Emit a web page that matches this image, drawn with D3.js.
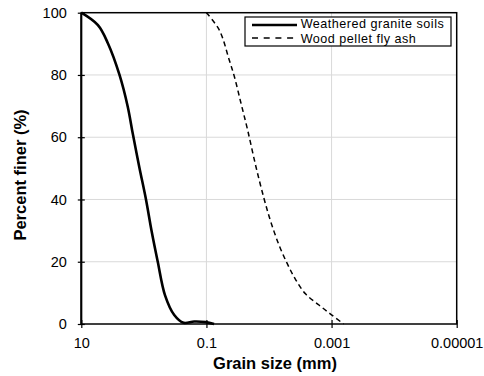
<!DOCTYPE html>
<html>
<head>
<meta charset="utf-8">
<script src="https://cdn.jsdelivr.net/npm/d3@7/dist/d3.min.js"></script>
<style>
  html, body { margin: 0; padding: 0; background: #fff; }
  svg { display: block; font-family: Arial, "Liberation Sans", sans-serif; }
</style>
</head>
<body>
<svg id="chart" width="484" height="376"></svg>
<script>
// Grain size distribution data (grain size in mm, percent finer in %)
const graniteSize = [10, 5.42, 3.76, 2.45, 1.81, 1.50, 1.18, 0.925, 0.75, 0.60, 0.46, 0.327, 0.232, 0.157, 0.1025, 0.0755];
const granitePct  = [100, 96, 90.2, 80, 69.8, 61, 50.3, 40, 29.7, 20, 9.3, 2.9, 0.4, 0.8, 0.6, 0];

const ashSize = [0.1, 0.0622, 0.0432, 0.0358, 0.0281, 0.0220, 0.0162, 0.0119, 0.00935, 0.0069, 0.00508, 0.00374, 0.00259, 0.00159, 0.00104, 0.00064];
const ashPct  = [100, 94.4, 84.8, 79.5, 71, 62.4, 50.6, 40, 32.8, 25.3, 19.3, 14.2, 9.6, 6.1, 3.2, 0];

const xTicks = [10, 0.1, 0.001, 0.00001];
const xTickLabels = ["10", "0.1", "0.001", "0.00001"];
const yTicks = [0, 20, 40, 60, 80, 100];

const seriesNames = ["Weathered granite soils", "Wood pellet fly ash"];

const svg = d3.select("#chart");
const L = 81.3, R = 456.7, T = 12.7, B = 324;

const x = d3.scaleLog().domain([10, 0.00001]).range([L, R]);
const y = d3.scaleLinear().domain([0, 100]).range([B, T]);

// gridlines
svg.append("g").selectAll("line").data(yTicks.filter(v => v > 0 && v < 100)).join("line")
  .attr("x1", L).attr("x2", R).attr("y1", d => y(d)).attr("y2", d => y(d))
  .attr("stroke", "#d9d9d9").attr("stroke-width", 1);
svg.append("g").selectAll("line").data(xTicks.slice(1, -1)).join("line")
  .attr("x1", d => x(d)).attr("x2", d => x(d)).attr("y1", T).attr("y2", B)
  .attr("stroke", "#d9d9d9").attr("stroke-width", 1);

// series lines
const line = d3.line().x(d => x(d[0])).y(d => y(d[1])).curve(d3.curveCatmullRom.alpha(0.5));
const granite = graniteSize.map((s, i) => [s, granitePct[i]]);
const ash = ashSize.map((s, i) => [s, ashPct[i]]);

svg.append("path").datum(granite).attr("d", line)
  .attr("fill", "none").attr("stroke", "#000").attr("stroke-width", 2.6)
  .attr("stroke-linejoin", "round");
svg.append("path").datum(ash).attr("d", line)
  .attr("fill", "none").attr("stroke", "#000").attr("stroke-width", 1.5)
  .attr("stroke-dasharray", "5,3.5");

// plot frame
svg.append("rect").attr("x", L).attr("y", T).attr("width", R - L).attr("height", B - T)
  .attr("fill", "none").attr("stroke", "#000").attr("stroke-width", 1.5);
svg.append("line").attr("x1", L).attr("x2", L).attr("y1", T).attr("y2", B)
  .attr("stroke", "#000").attr("stroke-width", 2);

// axes
const xAxis = d3.axisBottom(x).tickValues(xTicks)
  .tickFormat((d, i) => xTickLabels[i]).tickSizeInner(4).tickSizeOuter(0).tickPadding(10);
const gx = svg.append("g").attr("transform", `translate(0,${B})`).call(xAxis);
gx.select(".domain").remove();
gx.selectAll(".tick line").attr("y1", -4).attr("stroke", "#000").attr("stroke-width", 1.2);
gx.selectAll(".tick text").attr("font-size", "14.5px").attr("fill", "#000")
  .attr("font-family", "Arial, 'Liberation Sans', sans-serif");

const yAxis = d3.axisLeft(y).tickValues(yTicks).tickSizeInner(3.5).tickSizeOuter(0).tickPadding(11);
const gy = svg.append("g").attr("transform", `translate(${L},0)`).call(yAxis);
gy.select(".domain").remove();
gy.selectAll(".tick line").attr("x1", 3.5).attr("stroke", "#000").attr("stroke-width", 1.2);
gy.selectAll(".tick text").attr("font-size", "14.5px").attr("fill", "#000")
  .attr("font-family", "Arial, 'Liberation Sans', sans-serif");

// axis titles
svg.append("text").attr("x", 275).attr("y", 369.3).attr("text-anchor", "middle")
  .attr("font-size", "16.5px").attr("font-weight", "bold").text("Grain size (mm)");
svg.append("text").attr("transform", "translate(25.5,175) rotate(-90)").attr("text-anchor", "middle")
  .attr("font-size", "16.5px").attr("font-weight", "bold").text("Percent finer (%)");

// legend
const lg = svg.append("g");
lg.append("rect").attr("x", 245).attr("y", 17).attr("width", 206).attr("height", 29)
  .attr("fill", "#fff").attr("stroke", "#000").attr("stroke-width", 1.2);
lg.append("line").attr("x1", 252).attr("x2", 297).attr("y1", 25).attr("y2", 25)
  .attr("stroke", "#000").attr("stroke-width", 2.6);
lg.append("line").attr("x1", 252).attr("x2", 297).attr("y1", 38).attr("y2", 38)
  .attr("stroke", "#000").attr("stroke-width", 1.5).attr("stroke-dasharray", "6,5.7");
lg.append("text").attr("x", 300.7).attr("y", 28.3).attr("font-size", "12.6px")
  .attr("letter-spacing", "0.5px").text(seriesNames[0]);
lg.append("text").attr("x", 300.7).attr("y", 42.6).attr("font-size", "12.6px")
  .attr("letter-spacing", "0.5px").text(seriesNames[1]);
</script>
</body>
</html>
